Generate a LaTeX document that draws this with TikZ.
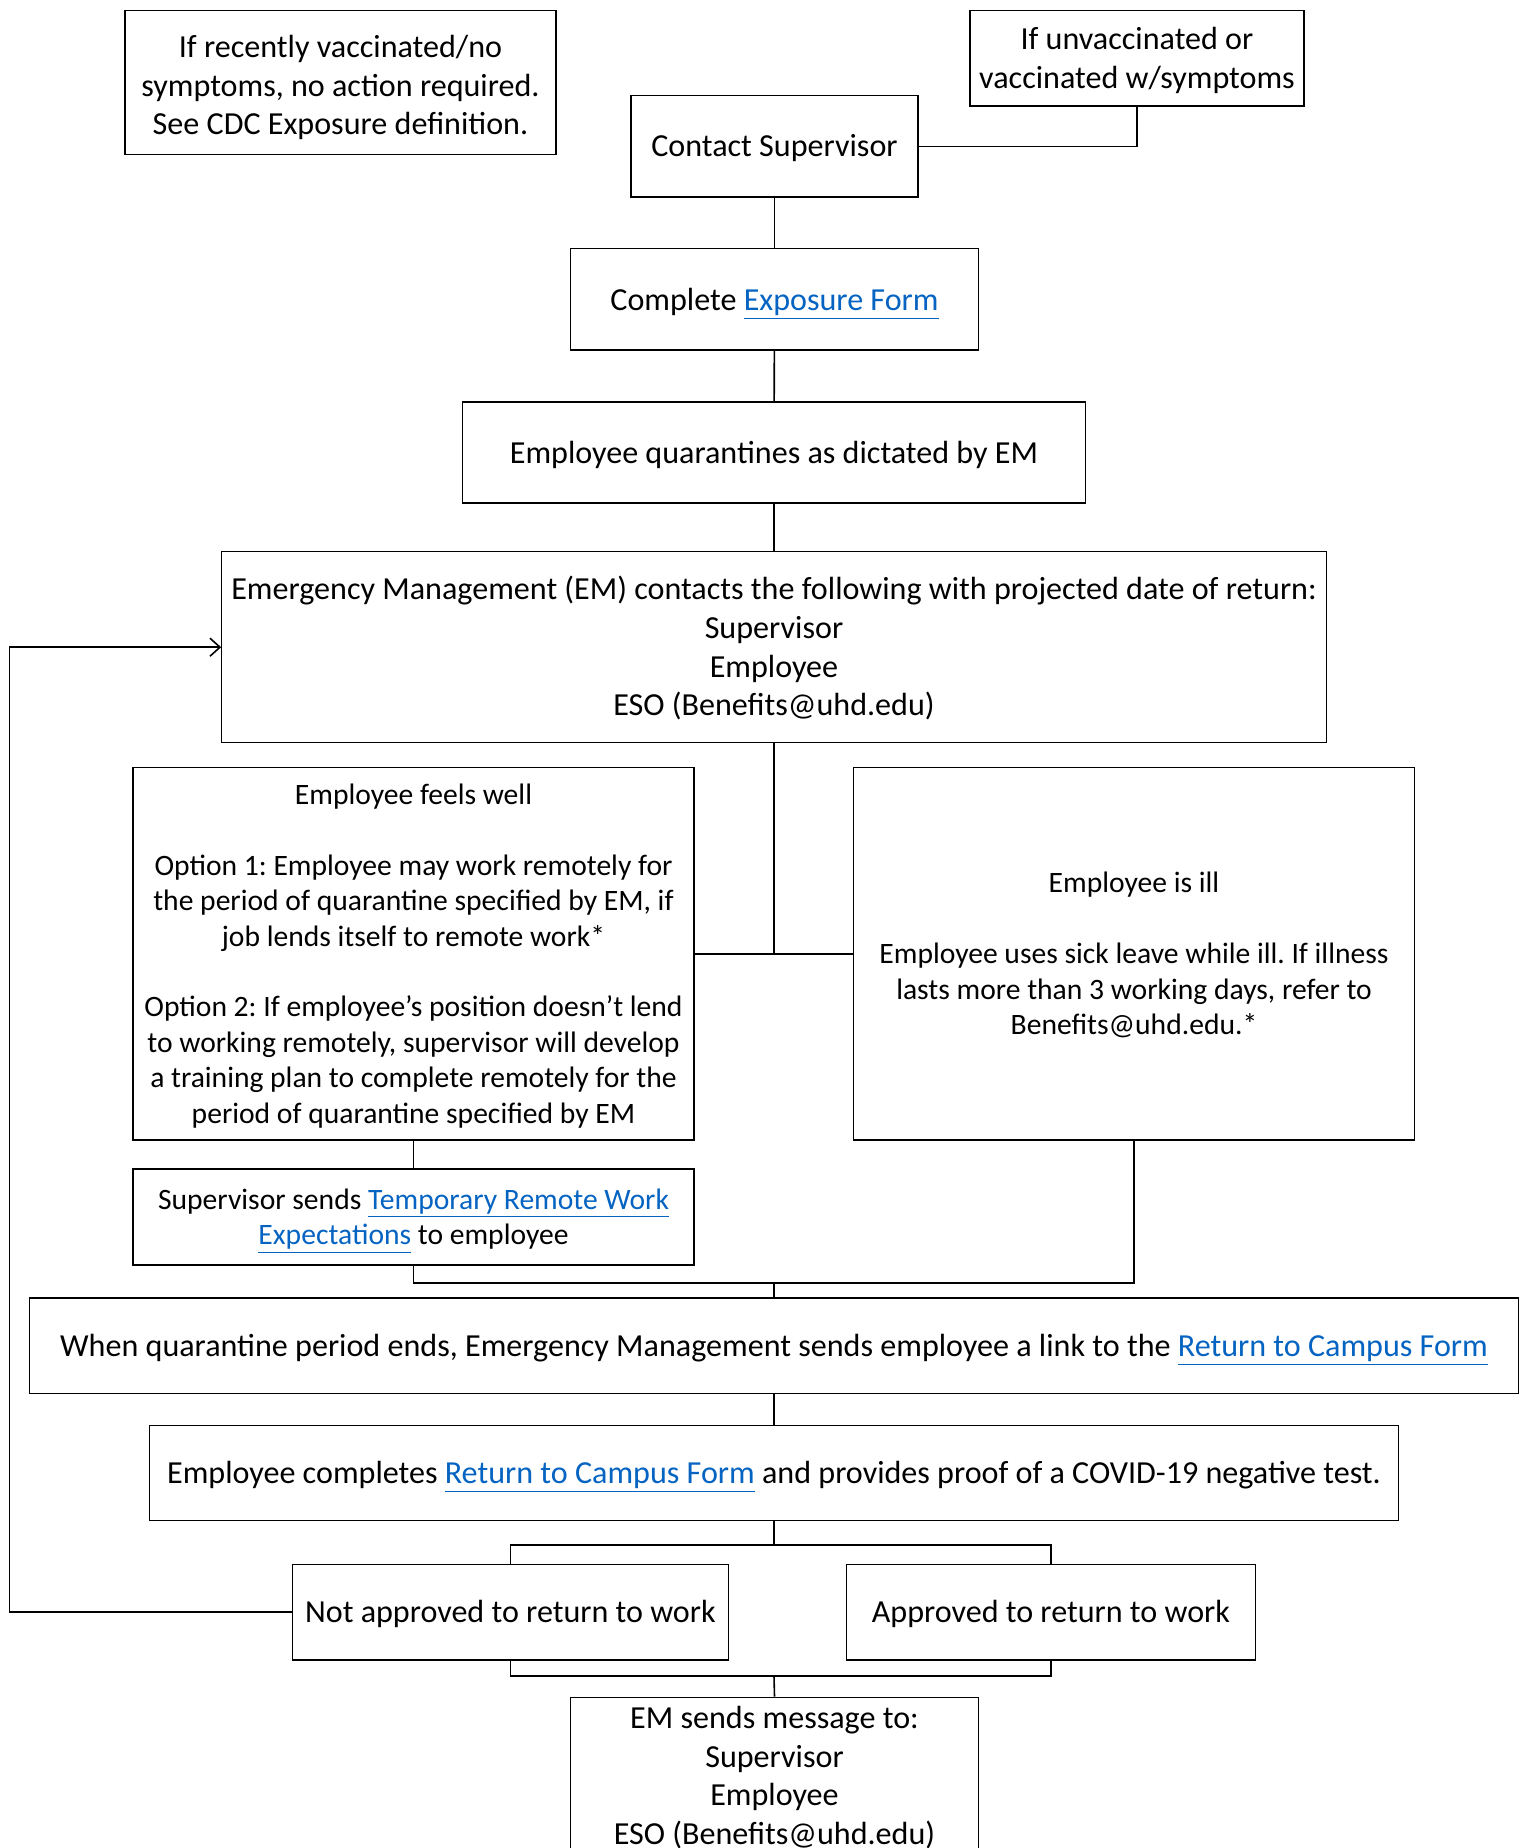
\documentclass[tikz,border=0pt]{standalone}
\usepackage{fontspec}
\setmainfont{Carlito}
\usetikzlibrary{arrows.meta}
\definecolor{linkblue}{HTML}{0563C1}
\newcommand\bigf{\fontsize{16.05pt}{19.3pt}\selectfont\frenchspacing}
\newcommand\smallf{\fontsize{14.8pt}{17.7pt}\selectfont\frenchspacing}
\newcommand\lnk[1]{{\color{linkblue}\underline{#1}}}
% struts fixing the text block height (Word-like line boxes)
\newcommand\Tb{\rule{0pt}{15.8pt}}
\newcommand\Bb{\rule[-5.2pt]{0pt}{0pt}}
\newcommand\Ts{\rule{0pt}{14.8pt}}
\newcommand\Bs{\rule[-4.8pt]{0pt}{0pt}}
\tikzset{
  box/.style={draw, line width=0.6pt, inner sep=0pt, align=center, font=\bigf},
  sbox/.style={box, font=\smallf},
  conn/.style={line width=0.8pt},
}
\begin{document}
\begin{tikzpicture}[x=0.5pt,y=-0.5pt]
\useasboundingbox (0,0) rectangle (1523,1848);
\clip (0,0) rectangle (1523,1848);
\node[box, minimum width=215.5pt, minimum height=71.9pt] (tl) at (340.5,82.5)
  {\rule{0pt}{19pt}If recently vaccinated/no\\symptoms, no action required.\\See CDC Exposure definition.\Bb};
\node[box, minimum width=167pt, minimum height=47.7pt] (tr) at (1137,58.3)
  {\Tb If unvaccinated or\\vaccinated w/symptoms\Bb};
\node[box, minimum width=143.5pt, minimum height=50.75pt] (cs) at (774.5,146.3)
  {\Tb Contact Supervisor\Bb};
\node[box, minimum width=204pt, minimum height=50.65pt] (ef) at (774.5,299.4)
  {\Tb Complete \lnk{Exposure Form}\Bb};
\node[box, minimum width=311.85pt, minimum height=50.5pt] (eq) at (774,452.5)
  {\Tb Employee quarantines as dictated by EM\Bb};
\node[box, minimum width=552.2pt, minimum height=95.45pt] (em) at (774,647.2)
  {\Tb Emergency Management (EM) contacts the following with projected date of return:\\Supervisor\\Employee\\ESO (Benefits@uhd.edu)\Bb};
\node[sbox, minimum width=280.5pt, minimum height=186.3pt] (fw) at (413.5,953.7)
  {\Ts Employee feels well\\[17.7pt]
   Option 1: Employee may work remotely for\\the period of quarantine specified by EM, if\\job lends itself to remote work*\\[17.7pt]
   Option 2: If employee’s position doesn’t lend\\to working remotely, supervisor will develop\\a training plan to complete remotely for the\\period of quarantine specified by EM\Bs};
\node[sbox, minimum width=280.6pt, minimum height=186.3pt] (ill) at (1134,953.7)
  {\Ts Employee is ill\\[17.7pt]
   Employee uses sick leave while ill. If illness\\lasts more than 3 working days, refer to\\Benefits@uhd.edu.*\Bs};
\node[sbox, minimum width=280.5pt, minimum height=48pt] (ss) at (413.5,1217)
  {\Ts Supervisor sends \lnk{Temporary Remote Work}\\\lnk{Expectations} to employee\Bs};
\node[box, minimum width=744.4pt, minimum height=47.65pt] (wq) at (774,1345.7)
  {\Tb When quarantine period ends, Emergency Management sends employee a link to the \lnk{Return to Campus Form}\Bb};
\node[box, minimum width=624.15pt, minimum height=47.85pt] (ec) at (774,1473)
  {\Tb Employee completes \lnk{Return to Campus Form} and provides proof of a COVID-19 negative test.\Bb};
\node[box, minimum width=218.1pt, minimum height=47.9pt] (na) at (510.4,1612)
  {\Tb Not approved to return to work\Bb};
\node[box, minimum width=204.5pt, minimum height=47.9pt] (ap) at (1050.9,1612)
  {\Tb Approved to return to work\Bb};
\node[box, minimum width=204pt, minimum height=78.5pt] (es) at (774.5,1776)
  {\Tb EM sends message to:\\Supervisor\\Employee\\ESO (Benefits@uhd.edu)\Bb};
% connectors
\coordinate (m1) at (774,1283);
\coordinate (b1) at (774,1545);
\coordinate (b2) at (774,1676);
\coordinate (fb) at (9.4,1611);
\draw[conn] (cs.east) -| (tr.south);
\draw[conn] (cs) -- (ef);
\draw[conn] (ef) -- (eq);
\draw[conn] (eq) -- (em);
\draw[conn] (em.south) -- (em.south |- fw.east);
\draw[conn] (fw.east) -- (ill.west);
\draw[conn] (fw) -- (ss);
\draw[conn] (ss.south) |- (m1);
\draw[conn] (ill.south) |- (m1);
\draw[conn] (m1) -- (wq.north);
\draw[conn] (wq) -- (ec);
\draw[conn] (ec.south) -- (b1);
\draw[conn] (na.north) |- (b1);
\draw[conn] (ap.north) |- (b1);
\draw[conn] (na.south) |- (b2);
\draw[conn] (ap.south) |- (b2);
\draw[conn] (b2) -- (es.north);
\draw[conn, -{Straight Barb[length=5pt,width=9pt]}] (na.west) -- (na.west -| fb) |- (em.west);
\end{tikzpicture}
\end{document}
